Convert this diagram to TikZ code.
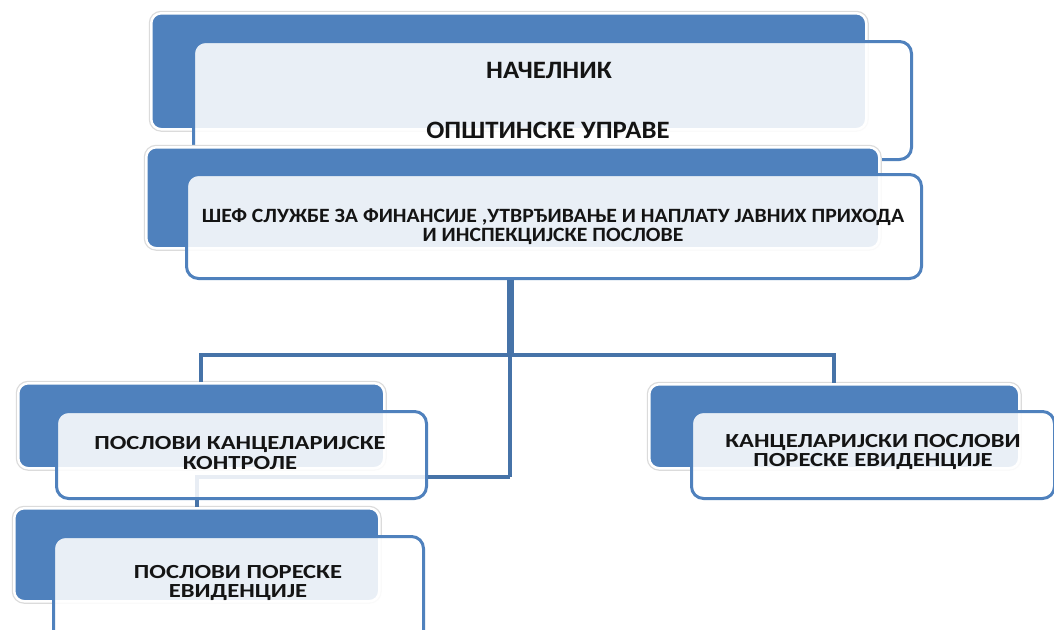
\documentclass[tikz,border=0pt]{standalone}
\usepackage{fontspec}
\setmainfont{Carlito}
\newfontfamily\lblfont[FakeStretch=1.07]{Carlito}
\newfontfamily\lowfont[FakeStretch=1.23]{Carlito}
\definecolor{boxblue}{RGB}{79,129,189}
\definecolor{connblue}{RGB}{70,115,168}
\definecolor{txt}{RGB}{20,20,20}
\tikzset{
  back/.style={anchor=north west, inner sep=0pt, rounded corners=10pt, fill=boxblue,
    preaction={draw=black!14, line width=5pt}, draw=white, line width=2.5pt},
  front/.style={anchor=north west, inner sep=0pt, rounded corners=12pt, fill=white, fill opacity=0.88,
    draw=boxblue, line width=3pt},
  conn/.style={draw=connblue, line width=4pt},
  trunk/.style={draw=connblue, line width=7pt},
  label/.style={text=txt, font=\lowfont\bfseries\fontsize{20}{19.5}\selectfont, align=center, inner sep=0pt},
  toplabel/.style={label, font=\lblfont\bfseries\fontsize{25}{19}\selectfont},
  shefla/.style={label, font=\lblfont\bfseries\fontsize{20.3}{19}\selectfont},
}
\begin{document}
\begin{tikzpicture}[x=1pt,y=-1pt]
\useasboundingbox (0,0) rectangle (1054,629);
\fill[white] (0,0) rectangle (1054,629);
% junction coordinates
\coordinate (j1) at (510,355);
\coordinate (j2) at (510,477);
% boxes (named for connectors)
\path (150,12) node[back, minimum width=715pt, minimum height=116pt] (b1) {};
\path (192,40) node[front, minimum width=718pt, minimum height=118pt] (f1) {};
\path (145,146) node[back, minimum width=733pt, minimum height=101pt] (b2) {};
\path (185,173) node[front, minimum width=735pt, minimum height=104pt] (f2) {};
% connectors drawn behind boxes of lower level
\draw[trunk] (j1 |- f2.south) -- (j1);
\draw[conn] (j1) -- (j2);
\path (17,382) node[back, minimum width=366pt, minimum height=85pt] (b3) {};
\path (648,383) node[back, minimum width=370pt, minimum height=84pt] (b5) {};
\path (13,507) node[back, minimum width=365pt, minimum height=93pt] (b4) {};
\draw[conn] (b3.north) |- (j1) -| (b5.north);
\draw[conn] (j2) -| (b4.north);
\path (55,410) node[front, minimum width=370pt, minimum height=87pt] (f3) {};
\path (690,410) node[front, minimum width=363pt, minimum height=87pt] (f5) {};
\path (52,535) node[front, minimum width=370pt, minimum height=110pt] (f4) {};
% texts
\node[toplabel] (t1) at (549,70) {НАЧЕЛНИК};
\node[toplabel] (t2) at (548,130) {ОПШТИНСКЕ УПРАВЕ};
\node[shefla] (t3) at (553,227) {ШЕФ СЛУЖБЕ ЗА ФИНАНСИЈЕ ,УТВРЂИВАЊЕ И НАПЛАТУ ЈАВНИХ ПРИХОДА\\И ИНСПЕКЦИЈСКЕ ПОСЛОВЕ};
\node[label] (t4) at (240,453) {ПОСЛОВИ КАНЦЕЛАРИЈСКЕ\\КОНТРОЛЕ};
\node[label] (t5) at (873,452) {КАНЦЕЛАРИЈСКИ ПОСЛОВИ\\ПОРЕСКЕ ЕВИДЕНЦИЈЕ};
\node[label] (t6) at (238,583) {ПОСЛОВИ ПОРЕСКЕ\\ЕВИДЕНЦИЈЕ};
\end{tikzpicture}
\end{document}
